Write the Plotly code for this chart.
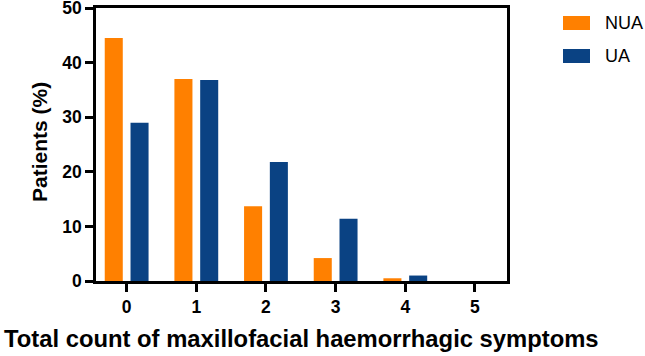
import plotly.graph_objects as go

categories = [0, 1, 2, 3, 4, 5]
nua = [44.5, 37.0, 13.7, 4.2, 0.5, 0.0]
ua = [29.0, 36.8, 21.8, 11.4, 1.0, 0.0]
y_ticks = [0, 10, 20, 30, 40, 50]
series_names = ["NUA", "UA"]
colors = ["#FF8000", "#0A4283"]

FONT = "Liberation Sans, Arial, sans-serif"

fig = go.Figure()
fig.add_trace(go.Bar(x=categories, y=nua, name=series_names[0], marker=dict(color=colors[0], line=dict(width=0)), showlegend=False))
fig.add_trace(go.Bar(x=categories, y=ua, name=series_names[1], marker=dict(color=colors[1], line=dict(width=0)), showlegend=False))

L, R, T, B = 96, 138, 8, 75
W, H = 645, 356

fig.update_layout(
    width=W, height=H,
    margin=dict(l=L, r=R, t=T, b=B, autoexpand=False),
    paper_bgcolor="white", plot_bgcolor="white",
    barmode="group", bargap=0.26, bargroupgap=0.3,
    font=dict(family=FONT, color="black"),
    xaxis=dict(
        range=[-0.44, 5.46], tickmode="array", tickvals=categories,
        ticktext=[str(c) for c in categories], automargin=False,
        showline=True, linecolor="black", linewidth=2.5, mirror=True,
        ticks="outside", ticklen=8, tickwidth=2.5, tickcolor="black",
        showgrid=False, zeroline=False, ticklabeloverflow="allow",
        tickfont=dict(family=FONT, size=17.5, color="black", weight="bold"),
    ),
    yaxis=dict(
        range=[0, 50], tickmode="array", tickvals=y_ticks, automargin=False,
        showline=True, linecolor="black", linewidth=2.5, mirror=True,
        ticks="outside", ticklen=8, tickwidth=2.5, tickcolor="black",
        showgrid=False, zeroline=False, ticklabeloverflow="allow",
        tickfont=dict(family=FONT, size=17.5, color="black", weight="bold"),
    ),
)

# axis titles
fig.add_annotation(text="<b>Total count of maxillofacial haemorrhagic symptoms</b>",
                   xref="paper", yref="paper", x=(301 - L) / (W - L - R), y=-(338 - (H - B)) / (H - T - B),
                   showarrow=False, xanchor="center", yanchor="middle",
                   font=dict(family=FONT, size=23.8, color="black"))
fig.add_annotation(text="<b>Patients (%)</b>",
                   xref="paper", yref="paper", x=-(L - 39) / (W - L - R), y=(H - B - 142) / (H - T - B),
                   showarrow=False, xanchor="center", yanchor="middle", textangle=-90,
                   font=dict(family=FONT, size=21, color="black"))

# legend drawn manually
pw, ph = W - L - R, H - T - B
for i, (nm, col) in enumerate(zip(series_names, colors)):
    yc = 23 + i * 33
    fig.add_shape(type="rect", xref="paper", yref="paper",
                  x0=(563 - L) / pw, x1=(590 - L) / pw,
                  y0=(H - B - (yc - 7)) / ph, y1=(H - B - (yc + 7)) / ph,
                  fillcolor=col, line=dict(width=0))
    fig.add_annotation(text=nm, xref="paper", yref="paper",
                       x=(603 - L) / pw, y=(H - B - yc) / ph,
                       showarrow=False, xanchor="left", yanchor="middle",
                       font=dict(family=FONT, size=18, color="black"))

fig.write_html("out.html", config={"displayModeBar": False},
               post_script="document.body.style.margin='0';")
